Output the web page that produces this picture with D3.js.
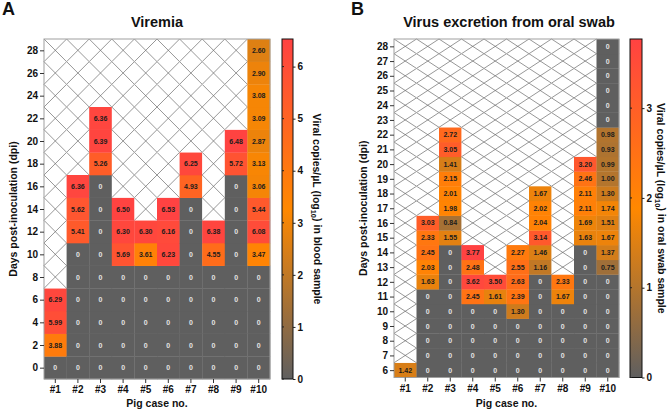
<!DOCTYPE html>
<html><head><meta charset="utf-8">
<script src="https://cdn.jsdelivr.net/npm/d3@7"></script>
<style>
body{margin:0;background:#fff}
svg{display:block;font-family:"Liberation Sans",Arial,sans-serif;font-weight:bold}
</style></head><body>
<svg id="chart" width="669" height="410"></svg>
<script>
// ---------- DATA ----------
const pigs = ["#1","#2","#3","#4","#5","#6","#7","#8","#9","#10"];

// Panel A: viremia, sampled every 2 dpi (0..28); null = no sample (hatched)
const daysViremia = [0,2,4,6,8,10,12,14,16,18,20,22,24,26,28];
const viremia = [
  [0,3.88,5.99,6.29,null,null,null,null,null,null,null,null,null,null,null],
  [0,0,0,0,0,0,5.41,5.62,6.36,null,null,null,null,null,null],
  [0,0,0,0,0,0,0,0,0,5.26,6.39,6.36,null,null,null],
  [0,0,0,0,0,5.69,6.30,6.50,null,null,null,null,null,null,null],
  [0,0,0,0,0,3.61,6.30,null,null,null,null,null,null,null,null],
  [0,0,0,0,0,6.23,6.16,6.53,null,null,null,null,null,null,null],
  [0,0,0,0,0,0,0,0,4.93,6.25,null,null,null,null,null],
  [0,0,0,0,0,4.55,6.38,null,null,null,null,null,null,null,null],
  [0,0,0,0,0,0,0,0,0,5.72,6.48,null,null,null,null],
  [0,0,0,0,0,3.47,6.08,5.44,3.06,3.13,2.87,3.09,3.08,2.90,2.60]
];

// Panel B: oral swab, daily 6..28 dpi
const daysOral = [6,7,8,9,10,11,12,13,14,15,16,17,18,19,20,21,22,23,24,25,26,27,28];
const oralSwab = [
  [1.42,null,null,null,null,null,null,null,null,null,null,null,null,null,null,null,null,null,null,null,null,null,null],
  [0,0,0,0,0,0,1.63,2.03,2.45,2.33,3.03,null,null,null,null,null,null,null,null,null,null,null,null],
  [0,0,0,0,0,0,0,0,0,1.55,0.84,1.98,2.01,2.15,1.41,3.05,2.72,null,null,null,null,null,null],
  [0,0,0,0,0,2.45,3.62,2.48,3.77,null,null,null,null,null,null,null,null,null,null,null,null,null,null],
  [0,0,0,0,0,1.61,3.50,null,null,null,null,null,null,null,null,null,null,null,null,null,null,null,null],
  [0,0,0,0,1.30,2.39,2.63,2.55,2.27,null,null,null,null,null,null,null,null,null,null,null,null,null,null],
  [0,0,0,0,0,0,0,1.16,1.46,3.14,2.04,2.02,1.67,null,null,null,null,null,null,null,null,null,null],
  [0,0,0,0,0,1.67,2.33,null,null,null,null,null,null,null,null,null,null,null,null,null,null,null,null],
  [0,0,0,0,0,0,0,0,0,1.63,1.69,2.11,2.11,2.46,3.20,null,null,null,null,null,null,null,null],
  [0,0,0,0,0,0,0,0.75,1.37,1.67,1.51,1.74,1.30,1.00,0.99,0.93,0.98,0,0,0,0,0,0]
];

const ticksBarA = [0,1,2,3,4,5,6];
const ticksBarB = [0,1,2,3];

// ---------- DRAW ----------
const svg = d3.select("#chart");
const defs = svg.append("defs");
const GREY = "#5f5f5f", ORANGE = "#ff8800", RED = "#ff4242";

function panel(o) {
  const g = svg.append("g");
  const max = d3.max(o.values.flat());
  const color = d3.scaleLinear().domain([0, max/2, max]).range([GREY, ORANGE, RED]).interpolate(d3.interpolateRgb);
  const x = d3.scaleBand().domain(pigs).range([o.x0, o.x1]).padding(0);
  const half = o.step/2;
  const y = d3.scaleLinear()
    .domain([d3.min(o.days)-half, d3.max(o.days)+half])
    .range([o.y1, o.y0]);

  const cells = [];
  o.values.forEach((arr, i) => arr.forEach((v, j) => cells.push({pig: pigs[i], day: o.days[j], v})));

  const cg = g.append("g").selectAll("g").data(cells).join("g");
  cg.each(function(d) {
    const s = d3.select(this);
    const xa = x(d.pig), xb = xa + x.bandwidth();
    const ya = y(d.day + half), yb = y(d.day - half);
    if (d.v === null) {
      s.append("rect").attr("x", xa).attr("y", ya).attr("width", xb-xa).attr("height", yb-ya).attr("fill", "#fff");
      s.append("path").attr("d", `M${xa},${ya}L${xb},${yb}M${xb},${ya}L${xa},${yb}`)
        .attr("stroke", "#6a6a6a").attr("stroke-width", 0.7).attr("fill", "none");
    } else {
      s.append("rect").attr("x", xa).attr("y", ya).attr("width", xb-xa+0.3).attr("height", yb-ya+0.3)
        .attr("fill", color(d.v));
      s.append("text").attr("x", (xa+xb)/2).attr("y", (ya+yb)/2).attr("dy", "0.36em")
        .attr("text-anchor", "middle").attr("font-size", 7)
        .attr("fill", d.v === 0 ? "#e4e4e4" : "#1c1c1c")
        .text(d.v === 0 ? "0" : d.v.toFixed(2));
    }
  });

  // frame
  g.append("rect").attr("x", o.x0).attr("y", o.y0).attr("width", o.x1-o.x0).attr("height", o.y1-o.y0)
    .attr("fill", "none").attr("stroke", "#a0a0a0").attr("stroke-width", 1);

  // axes
  const ya = g.append("g").attr("transform", `translate(${o.x0},0)`)
    .call(d3.axisLeft(y).tickValues(o.yTicks).tickSize(4).tickPadding(2));
  const xa = g.append("g").attr("transform", `translate(0,${o.y1})`)
    .call(d3.axisBottom(x).tickSize(4).tickPadding(3));
  [ya, xa].forEach(a => {
    a.select(".domain").remove();
    a.selectAll("line").attr("stroke", "#333");
    a.selectAll("text").attr("font-size", 10).attr("font-family", "Liberation Sans, Arial, sans-serif")
      .attr("font-weight", "bold").attr("fill", "#111");
  });

  // titles
  g.append("text").attr("x", o.titleX).attr("y", 27).attr("text-anchor", "middle")
    .attr("font-size", 14.5).attr("fill", "#111").text(o.title);
  g.append("text").attr("x", o.letterX).attr("y", 15).attr("font-size", 18).attr("fill", "#111").text(o.letter);
  g.append("text").attr("transform", `translate(${o.yTitleX},${(o.y0+o.y1)/2}) rotate(-90)`)
    .attr("text-anchor", "middle").attr("dy", "0.35em").attr("font-size", 10.5).attr("fill", "#111")
    .text("Days post-inoculation (dpi)");
  g.append("text").attr("x", (o.x0+o.x1)/2).attr("y", 407).attr("text-anchor", "middle")
    .attr("font-size", 10.5).attr("fill", "#111").text("Pig case no.");

  // colour bar
  const gid = "grad" + o.letter;
  const grad = defs.append("linearGradient").attr("id", gid).attr("x1", 0).attr("y1", 1).attr("x2", 0).attr("y2", 0);
  d3.range(0, 1.0001, 0.05).forEach(t => grad.append("stop").attr("offset", t).attr("stop-color", color(t*max)));
  const cb = d3.scaleLinear().domain([0, max]).range([o.cbY1, o.y0]);
  g.append("rect").attr("x", o.cbX).attr("y", o.y0).attr("width", o.cbW).attr("height", o.cbY1-o.y0)
    .attr("fill", `url(#${gid})`).attr("stroke", "#111").attr("stroke-width", 1);
  const ca = g.append("g").attr("transform", `translate(${o.cbX+o.cbW},0)`)
    .call(d3.axisRight(cb).tickValues(o.cbTicks).tickSize(2.5).tickPadding(2).tickFormat(d3.format("d")));
  ca.select(".domain").remove();
  ca.selectAll("line").attr("stroke", "#222");
  ca.selectAll("text").attr("font-size", 10).attr("font-family", "Liberation Sans, Arial, sans-serif")
    .attr("font-weight", "bold").attr("fill", "#111");
  g.append("g").selectAll("line").data(o.cbTicks).join("line")
    .attr("x1", o.cbX).attr("x2", o.cbX+2).attr("y1", d => cb(d)).attr("y2", d => cb(d)).attr("stroke", "#222");
  const t = g.append("text").attr("transform", `translate(${o.cbTitleX},${(o.y0+o.cbY1)/2}) rotate(90)`)
    .attr("text-anchor", "middle").attr("dy", "0.35em").attr("font-size", 10.5).attr("fill", "#111");
  t.append("tspan").text("Viral copies/µL (log");
  t.append("tspan").attr("font-size", 7.5).attr("dy", "0.3em").text("10");
  t.append("tspan").attr("dy", "-0.25em").text(") in " + o.sample);
}

panel({values: viremia, days: daysViremia, step: 2, yTicks: daysViremia,
  x0: 44, x1: 270, y0: 39, y1: 379, title: "Viremia", titleX: 157, letter: "A", letterX: 2, yTitleX: 13,
  cbX: 282, cbW: 11, cbY1: 379, cbTicks: ticksBarA, cbTitleX: 317, sample: "blood sample"});
panel({values: oralSwab, days: daysOral, step: 1, yTicks: daysOral,
  x0: 394, x1: 619, y0: 39, y1: 377.5, title: "Virus excretion from oral swab", titleX: 509, letter: "B", letterX: 351, yTitleX: 363,
  cbX: 630, cbW: 12, cbY1: 377.5, cbTicks: ticksBarB, cbTitleX: 661, sample: "oral swab sample"});
</script>
</body></html>
